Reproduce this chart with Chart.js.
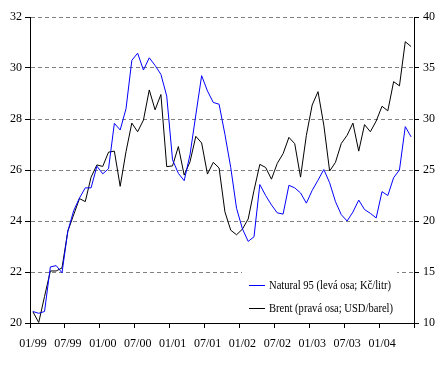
<!DOCTYPE html>
<html>
<head>
<meta charset="utf-8">
<script src="https://cdn.jsdelivr.net/npm/chart.js@4"></script>
<style>
body { margin:0; background:#fff; }
#wrap { width:439px; height:365px; }
</style>
</head>
<body>
<div id="wrap"><canvas id="myChart" width="439" height="365"></canvas></div>
<script>
// popisky osy x (kazdych 6 mesicu), mesicni data 01/1999 - 06/2004
const xLabels = ['01/99','07/99','01/00','07/00','01/01','07/01','01/02','07/02','01/03','07/03','01/04'];

// Natural 95, leva osa (Kc/litr)
const natural95 = [
	20.45, 20.38, 20.45, 22.2, 22.25, 21.97, 23.6, 24.4, 24.9, 25.3, 25.3, 26.15,
	25.85, 26.05, 27.83, 27.57, 28.4, 30.3, 30.58, 29.92, 30.4, 30.1, 29.75, 28.9,
	26.4, 25.87, 25.58, 26.6, 28.16, 29.7, 29.1, 28.65, 28.58, 27.4, 26.1, 24.5,
	23.7, 23.2, 23.38, 25.43, 25.0, 24.63, 24.32, 24.27, 25.4, 25.3, 25.1, 24.7,
	25.2, 25.6, 26.02, 25.5, 24.76, 24.25, 24.0, 24.35, 24.82, 24.45, 24.3, 24.12,
	25.15, 25.0, 25.7, 26.0, 27.7, 27.3
];

// Brent, prava osa (USD/barel)
const brent = [
	11.1, 10.05, 12.6, 15.1, 15.1, 15.4, 19.0, 20.6, 22.2, 21.9, 24.3, 25.5,
	25.35, 26.75, 26.85, 23.4, 26.8, 29.6, 28.75, 29.9, 32.85, 30.9, 32.4, 25.33,
	25.4, 27.3, 24.5, 25.8, 28.3, 27.65, 24.6, 25.75, 25.2, 20.9, 19.1, 18.65,
	19.2, 20.2, 23.0, 25.55, 25.25, 24.1, 25.65, 26.6, 28.2, 27.58, 24.3, 28.4,
	31.37, 32.68, 29.4, 24.9, 25.75, 27.6, 28.4, 29.6, 26.85, 29.45, 28.75, 29.8,
	31.25, 30.8, 33.66, 33.25, 37.58, 37.1
];

const seriesNames = ['Natural 95 (levá osa; Kč/litr)', 'Brent (pravá osa; USD/barel)'];
const seriesColors = ['#0000ff', '#000000'];

function toPoints(arr) {
	// bod uprostred mesice
	return arr.map((v, i) => ({ x: i + 0.5, y: v }));
}

Chart.defaults.font.family = '"Liberation Serif", "Times New Roman", serif';
Chart.defaults.font.size = 12;
Chart.defaults.color = '#000';

// legenda uvnitr grafu vpravo dole
const innerLegend = {
	id: 'innerLegend',
	afterDraw(chart) {
		const ctx = chart.ctx;
		const a = chart.chartArea;
		const left = Math.round(a.right) - 172;
		const top = Math.round(a.bottom) - 61;
		ctx.save();
		ctx.fillStyle = '#fff';
		ctx.fillRect(left, top, 155, 56);
		ctx.font = '12px "Liberation Serif", serif';
		ctx.textBaseline = 'middle';
		for (let i = 0; i < seriesNames.length; i++) {
			const y = top + Math.round(23 + i * 22.5);
			// znacka serie
			ctx.fillStyle = seriesColors[i];
			ctx.fillRect(left + 7, y, 16, 1);
			ctx.fillStyle = '#000';
			ctx.save();
			ctx.translate(left + 27, y + 0.5);
			ctx.scale(0.88, 1);
			ctx.fillText(seriesNames[i], 0, 0);
			ctx.restore();
		}
		ctx.restore();
	}
};

new Chart(document.getElementById('myChart'), {
	type: 'line',
	data: {
		datasets: [{
			label: seriesNames[0],
			data: toPoints(natural95),
			borderColor: seriesColors[0],
			borderWidth: 1,
			pointRadius: 0,
			yAxisID: 'y'
		}, {
			label: seriesNames[1],
			data: toPoints(brent),
			borderColor: seriesColors[1],
			borderWidth: 1,
			pointRadius: 0,
			yAxisID: 'y2'
		}]
	},
	options: {
		responsive: false,
		animation: false,
		layout: { padding: { top: 17, left: 0, right: 0, bottom: 0 } },
		plugins: { legend: { display: false }, tooltip: { enabled: false } },
		scales: {
			x: {
				type: 'linear',
				min: 0,
				max: 66,
				afterFit: function(s) { s.height = 42; },
				grid: { drawOnChartArea: false, tickLength: 5, tickColor: '#000' },
				border: { color: '#000', width: 1 },
				ticks: {
					stepSize: 6,
					autoSkip: false,
					maxRotation: 0,
					padding: 9,
					labelOffset: 3,
					callback: function(v) { return xLabels[v / 6] || ''; }
				}
			},
			y: {
				position: 'left',
				min: 20,
				max: 32,
				afterFit: function(s) { s.width = 30; },
				grid: { color: '#808080', tickLength: 5, tickColor: '#000' },
				border: { color: '#000', width: 1, dash: [4, 3] },
				ticks: { stepSize: 2, padding: 3 }
			},
			y2: {
				position: 'right',
				min: 10,
				max: 40,
				afterFit: function(s) { s.width = 25; },
				grid: { drawOnChartArea: false, tickLength: 5, tickColor: '#000' },
				border: { color: '#000', width: 1 },
				ticks: { stepSize: 5, padding: 4 }
			}
		}
	},
	plugins: [innerLegend]
});
</script>
</body>
</html>
